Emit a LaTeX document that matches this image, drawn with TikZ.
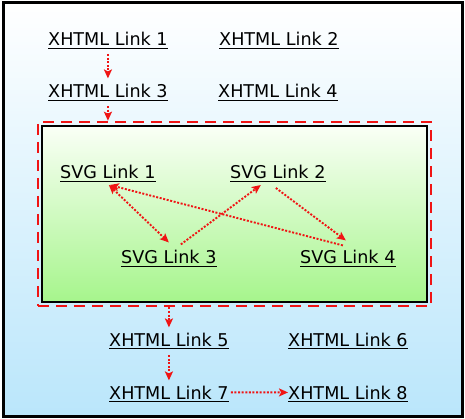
\documentclass[tikz,border=0pt]{standalone}
\usepackage{fontspec}
\setmainfont{DejaVu Sans}
\usetikzlibrary{arrows.meta}
\definecolor{skyblue}{RGB}{186,230,251}
\definecolor{palegreen}{RGB}{166,245,140}
\definecolor{greentop}{RGB}{250,255,246}
\definecolor{linkred}{RGB}{240,20,20}
\tikzset{
  lnk/.style={anchor=base west, inner sep=0pt, font=\fontsize{17.6}{20}\selectfont,
    append after command={
      ([yshift=-2.4pt]\tikzlastnode.base west) edge[draw=black, line width=1.2pt, -]
      ([yshift=-2.4pt]\tikzlastnode.base east)}},
  arr/.style={draw=linkred, line width=1.9pt, dash pattern=on 2pt off 1.6pt,
    -{Stealth[length=9pt,width=8pt,inset=2pt]}},
  darr/.style={arr, {Stealth[length=9pt,width=8pt,inset=2pt]}-{Stealth[length=9pt,width=8pt,inset=2pt]}}
}
\begin{document}
\begin{tikzpicture}[x=1pt,y=-1pt]
\useasboundingbox (0,0) rectangle (465,419);
\shade[top color=white, bottom color=skyblue] (3,3) rectangle (462,416);
\draw[line width=3pt] (3,3) rectangle (462,416);
\node[draw=black, line width=2.6pt, top color=greentop, bottom color=palegreen,
  minimum width=385pt, minimum height=176pt, inner sep=0pt] (svgbox) at (234.5,214) {};
\node[draw=linkred, line width=2.6pt, dash pattern=on 11pt off 7pt,
  minimum width=393pt, minimum height=184pt, inner sep=0pt] (focus) at (234.5,214) {};
% XHTML links
\node[lnk] (x1) at (48,46) {XHTML Link 1};
\node[lnk] (x2) at (219,46) {XHTML Link 2};
\node[lnk] (x3) at (48,98) {XHTML Link 3};
\node[lnk] (x4) at (218,98) {XHTML Link 4};
\node[lnk] (x5) at (109,346) {XHTML Link 5};
\node[lnk] (x6) at (288,346) {XHTML Link 6};
\node[lnk] (x7) at (109,399) {XHTML Link 7};
\node[lnk] (x8) at (288,399) {XHTML Link 8};
% SVG links
\node[lnk] (s1) at (60,179) {SVG Link 1};
\node[lnk] (s2) at (230,179) {SVG Link 2};
\node[lnk] (s3) at (121,264) {SVG Link 3};
\node[lnk] (s4) at (300,264) {SVG Link 4};
% connectors
\draw[arr] ([yshift=-8pt]x1.base) -- ([yshift=6pt]x3.north);
\draw[arr] ([yshift=-8pt]x3.base) -- (x3.base |- focus.north);
\draw[arr] (x5.base |- focus.south) -- ([yshift=5pt]x5.north);
\draw[arr] ([yshift=-9pt]x5.base) -- ([yshift=5pt]x7.north);
\draw[arr] ([xshift=2pt]x7.east) -- (x8.west);
\draw[darr] ([xshift=1pt,yshift=-6pt]s1.base) -- ([yshift=8pt]s3.north);
\draw[arr] ([xshift=12pt,yshift=6pt]s3.north) -- ([xshift=-17pt,yshift=-6pt]s2.base);
\draw[arr] ([xshift=-2pt,yshift=-9pt]s2.base) -- ([xshift=-2pt,yshift=10pt]s4.north);
\draw[arr] ([xshift=-5pt,yshift=5pt]s4.north) -- ([xshift=2pt,yshift=-6pt]s1.base);
\end{tikzpicture}
\end{document}
